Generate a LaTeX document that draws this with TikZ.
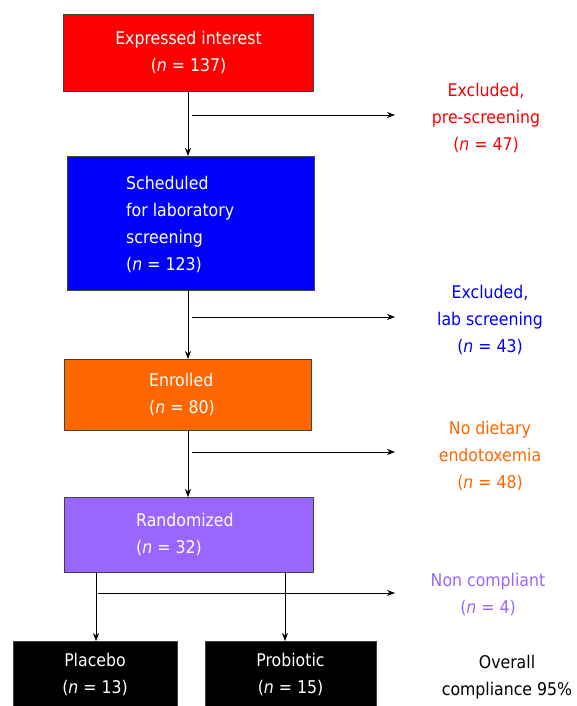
\documentclass[tikz,border=0pt]{standalone}
\usepackage{fontspec}
\setmainfont{DejaVu Sans Condensed}
\usetikzlibrary{arrows.meta}
\definecolor{cred}{HTML}{FF0000}
\definecolor{cblue}{HTML}{0000FF}
\definecolor{corange}{HTML}{FF6600}
\definecolor{cpurple}{HTML}{9966FF}
\tikzset{
  box/.style={draw=black!75, line width=0.6pt, inner sep=0pt, anchor=center},
  txt/.style={font=\fontsize{17.5}{27}\selectfont, align=center, inner sep=0pt},
  ltxt/.style={font=\fontsize{17.5}{27}\selectfont, align=left, inner sep=0pt, anchor=west},
  arr/.style={-{Stealth[length=8pt,width=6pt]}, line width=0.6pt, black},
}
\begin{document}
\begin{tikzpicture}[x=1pt,y=-1pt]
\useasboundingbox (0,0) rectangle (576,706);
% boxes
\node[box, fill=cred, minimum width=250pt, minimum height=77pt, txt, text=white] (r1) at (188.5,53) {Expressed interest\\(\textit{n} = 137)};
\node[box, fill=cblue, minimum width=247pt, minimum height=134pt] (b1) at (191,223) {};
\node[ltxt, text=white] (b1t) at (126,224.5) {Scheduled\\for laboratory\\screening\\(\textit{n} = 123)};
\node[box, fill=corange, minimum width=247pt, minimum height=71pt] (o1) at (187.5,394.5) {};
\node[ltxt, text=white] (o1t) at (149,394.5) {Enrolled\\(\textit{n} = 80)};
\node[box, fill=cpurple, minimum width=249pt, minimum height=75pt] (p1) at (189,534.5) {};
\node[ltxt, text=white] (p1t) at (136,534.5) {Randomized\\(\textit{n} = 32)};
\node[box, fill=black, minimum width=164pt, minimum height=66pt, txt, text=white] (pl) at (95,674) {Placebo\\(\textit{n} = 13)};
\node[box, fill=black, minimum width=171pt, minimum height=66pt, txt, text=white] (pr) at (290.5,674) {Probiotic\\(\textit{n} = 15)};
% side texts
\node[txt, text=cred] (e1) at (486,118) {Excluded,\\pre-screening\\(\textit{n} = 47)};
\node[txt, text=cblue] (e2) at (490,320.5) {Excluded,\\lab screening\\(\textit{n} = 43)};
\node[txt, text=corange] (e3) at (490,456) {No dietary\\endotoxemia\\(\textit{n} = 48)};
\node[txt, text=cpurple] (e4) at (488,594) {Non compliant\\(\textit{n} = 4)};
\node[txt, text=black] (oc) at (507,677) {Overall\\compliance 95\%};
% vertical arrows
\draw[arr] (188,91.5) coordinate (v1a) -- (188,156) coordinate (v1b);
\draw[arr] (188,290) coordinate (v2a) -- (188,359) coordinate (v2b);
\draw[arr] (188,430) coordinate (v3a) -- (188,497) coordinate (v3b);
\draw[arr] (96,572) coordinate (v4a) -- (96,641) coordinate (v4b);
\draw[arr] (285,572) coordinate (v5a) -- (285,641) coordinate (v5b);
% horizontal arrows
\coordinate (h1a) at (192,115); \coordinate (h1b) at (395,115);
\coordinate (h2a) at (192,317); \coordinate (h2b) at (395,317);
\coordinate (h3a) at (192,452); \coordinate (h3b) at (395,452);
\coordinate (h4a) at (98,593); \coordinate (h4b) at (395,593);
\draw[arr] (h1a) -- (h1b);
\draw[arr] (h2a) -- (h2b);
\draw[arr] (h3a) -- (h3b);
\draw[arr] (h4a) -- (h4b);
\end{tikzpicture}
\end{document}
